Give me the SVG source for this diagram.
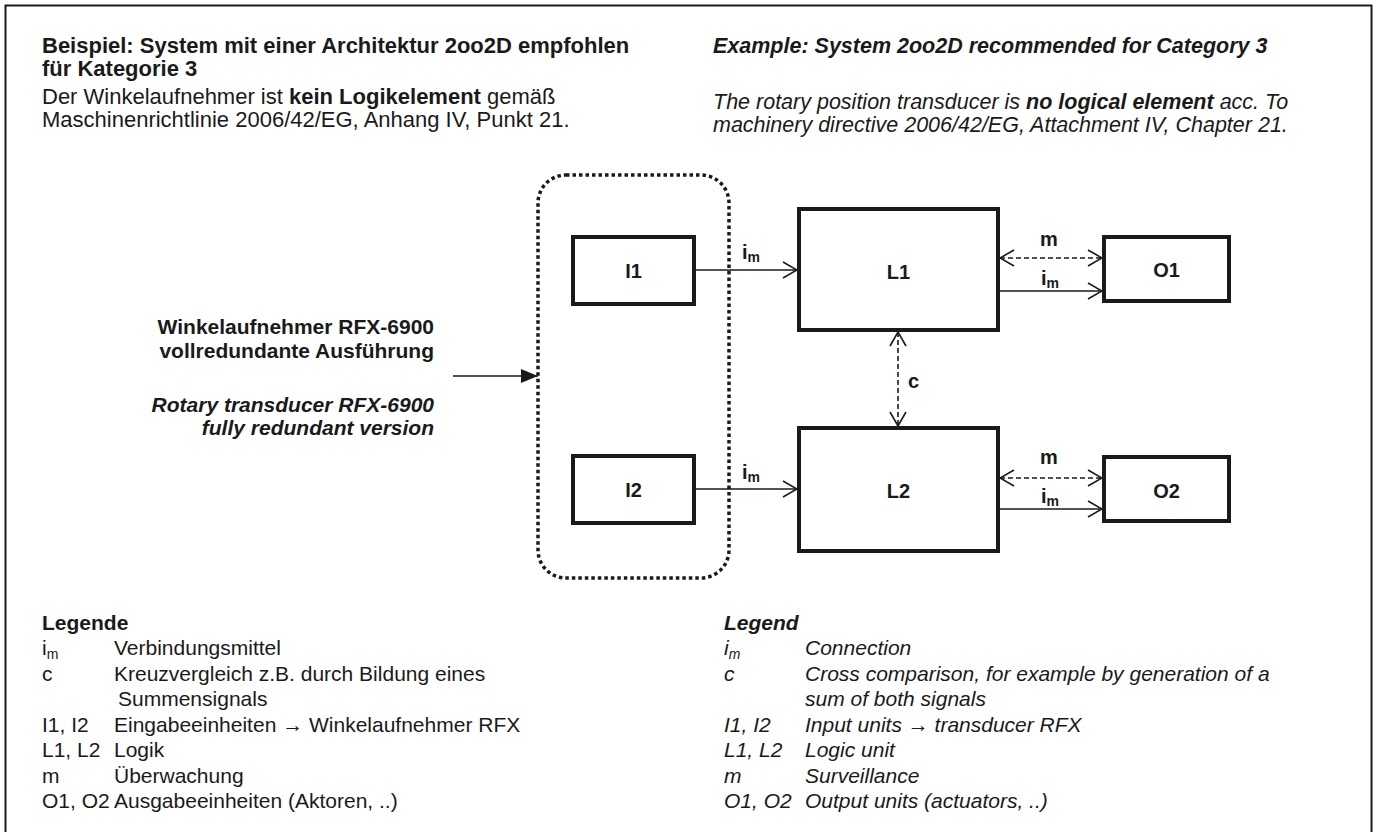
<svg xmlns="http://www.w3.org/2000/svg" width="1376" height="832" viewBox="0 0 1376 832">
<defs>
<style>
text{font-family:"Liberation Sans",Arial,sans-serif;font-size:22px;fill:#1a1a1a}
.b{font-weight:bold}
.i{font-style:italic}
.en{font-size:21.5px}
.lg{font-size:21px}
.box{fill:#fff;stroke:#1a1a1a;stroke-width:4}
.lbl{font-weight:bold;font-size:20px;text-anchor:middle}
.cl{font-weight:bold;font-size:20px}
.tl{font-weight:bold;font-size:21px;text-anchor:end}
.ln{stroke:#1a1a1a;stroke-width:1.6;fill:none}
.dash{stroke-dasharray:5 3}
.sub{font-size:14px}
.lsub{font-size:14px}
</style>
<marker id="open" viewBox="0 0 16 18" refX="15" refY="9" markerWidth="16" markerHeight="18" markerUnits="userSpaceOnUse" orient="auto-start-reverse">
<path d="M1,1 L15,9 L1,17" fill="none" stroke="#1a1a1a" stroke-width="1.6"/>
</marker>
<marker id="fill" viewBox="0 0 18 14" refX="17" refY="7" markerWidth="18" markerHeight="14" markerUnits="userSpaceOnUse" orient="auto">
<path d="M0,0 L17,7 L0,14 Z" fill="#1a1a1a"/>
</marker>
</defs>
<rect x="0" y="0" width="1376" height="832" fill="#fff"/>
<rect x="5.5" y="5.5" width="1366" height="840" fill="none" stroke="#1a1a1a" stroke-width="2"/>

<g id="header">
<text x="42" y="53" class="b">Beispiel: System mit einer Architektur 2oo2D empfohlen</text>
<text x="42" y="76" class="b">für Kategorie 3</text>
<text x="42" y="104">Der Winkelaufnehmer ist <tspan class="b">kein Logikelement</tspan> gemäß</text>
<text x="42" y="127">Maschinenrichtlinie 2006/42/EG, Anhang IV, Punkt 21.</text>
<text x="713" y="53" class="b i en">Example: System 2oo2D recommended for Category 3</text>
<text x="713" y="109" class="i en">The rotary position transducer is <tspan class="b">no logical element</tspan> acc. To</text>
<text x="713" y="132" class="i en">machinery directive 2006/42/EG, Attachment IV, Chapter 21.</text>
</g>

<g id="transducer-label">
<text x="434" y="334" class="tl">Winkelaufnehmer RFX-6900</text>
<text x="434" y="358" class="tl">vollredundante Ausführung</text>
<text x="434" y="412" class="tl i">Rotary transducer RFX-6900</text>
<text x="434" y="435" class="tl i">fully redundant version</text>
</g>

<g id="redundant-group">
<rect x="538" y="175" width="191" height="403" rx="28" ry="28" fill="none" stroke="#1a1a1a" stroke-width="3.5" stroke-dasharray="3.5 3"/>
</g>

<g id="I1"><rect class="box" x="573" y="237" width="121" height="67"/><text class="lbl" x="633.5" y="278">I1</text></g>
<g id="I2"><rect class="box" x="573" y="456" width="121" height="67"/><text class="lbl" x="633.5" y="497">I2</text></g>
<g id="L1"><rect class="box" x="799" y="209" width="199" height="121"/><text class="lbl" x="898.5" y="279">L1</text></g>
<g id="L2"><rect class="box" x="799" y="428" width="199" height="123"/><text class="lbl" x="898.5" y="498">L2</text></g>
<g id="O1"><rect class="box" x="1104" y="237" width="125" height="64"/><text class="lbl" x="1166.5" y="277">O1</text></g>
<g id="O2"><rect class="box" x="1104" y="457" width="125" height="64"/><text class="lbl" x="1166.5" y="498">O2</text></g>

<g id="connectors">
<line class="ln" x1="453" y1="376" x2="538" y2="376" marker-end="url(#fill)"/>
<line class="ln" x1="694" y1="270" x2="797" y2="270" marker-end="url(#open)"/>
<line class="ln" x1="694" y1="489" x2="797" y2="489" marker-end="url(#open)"/>
<line class="ln dash" x1="1000" y1="258" x2="1102" y2="258" marker-start="url(#open)" marker-end="url(#open)"/>
<line class="ln" x1="998" y1="291" x2="1102" y2="291" marker-end="url(#open)"/>
<line class="ln dash" x1="1000" y1="478" x2="1102" y2="478" marker-start="url(#open)" marker-end="url(#open)"/>
<line class="ln" x1="998" y1="509" x2="1102" y2="509" marker-end="url(#open)"/>
<line class="ln dash" x1="898" y1="332" x2="898" y2="426" marker-start="url(#open)" marker-end="url(#open)"/>
<text x="742" y="259" class="cl">i<tspan class="sub" dy="3">m</tspan></text>
<text x="742" y="479" class="cl">i<tspan class="sub" dy="3">m</tspan></text>
<text x="1049" y="246" class="cl" text-anchor="middle">m</text>
<text x="1041" y="285" class="cl">i<tspan class="sub" dy="3">m</tspan></text>
<text x="1049" y="464" class="cl" text-anchor="middle">m</text>
<text x="1041" y="503" class="cl">i<tspan class="sub" dy="3">m</tspan></text>
<text x="908" y="388" class="cl">c</text>
</g>

<g id="legend-de" class="lg">
<text x="42" y="630" class="b lg">Legende</text>
<text x="42" y="655" class="lg">i<tspan class="lsub" dy="4">m</tspan></text>
<text x="114" y="655" class="lg">Verbindungsmittel</text>
<text x="42" y="681" class="lg">c</text>
<text x="114" y="681" class="lg">Kreuzvergleich z.B. durch Bildung eines</text>
<text x="118" y="706" class="lg">Summensignals</text>
<text x="42" y="732" class="lg">I1, I2</text>
<text x="114" y="732" class="lg">Eingabeeinheiten → Winkelaufnehmer RFX</text>
<text x="42" y="757" class="lg">L1, L2</text>
<text x="114" y="757" class="lg">Logik</text>
<text x="42" y="783" class="lg">m</text>
<text x="114" y="783" class="lg">Überwachung</text>
<text x="42" y="808" class="lg">O1, O2</text>
<text x="114" y="808" class="lg">Ausgabeeinheiten (Aktoren, ..)</text>
</g>

<g id="legend-en" class="lg">
<text x="724" y="630" class="b i lg">Legend</text>
<text x="724" y="655" class="i lg">i<tspan class="lsub" dy="4">m</tspan></text>
<text x="805" y="655" class="i lg">Connection</text>
<text x="724" y="681" class="i lg">c</text>
<text x="805" y="681" class="i lg">Cross comparison, for example by generation of a</text>
<text x="805" y="706" class="i lg">sum of both signals</text>
<text x="724" y="732" class="i lg">I1, I2</text>
<text x="805" y="732" class="i lg">Input units → transducer RFX</text>
<text x="724" y="757" class="i lg">L1, L2</text>
<text x="805" y="757" class="i lg">Logic unit</text>
<text x="724" y="783" class="i lg">m</text>
<text x="805" y="783" class="i lg">Surveillance</text>
<text x="724" y="808" class="i lg">O1, O2</text>
<text x="805" y="808" class="i lg">Output units (actuators, ..)</text>
</g>
</svg>
